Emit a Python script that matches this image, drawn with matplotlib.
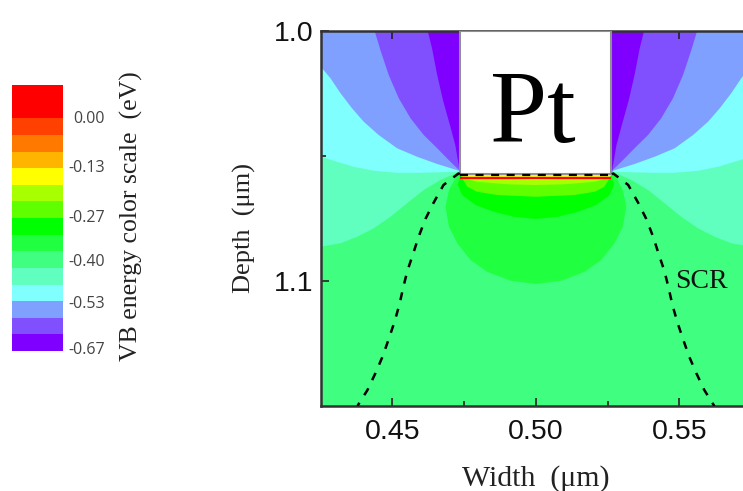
import matplotlib
matplotlib.use('Agg')
import matplotlib.pyplot as plt

# colour scale, bottom to top (top red block is twice as tall), with the labels next to it
scale_colors = ['#8000ff', '#8050ff', '#80a0ff', '#80ffff', '#60ffc0', '#40ff80', '#20ff40', '#00ff00',
                '#60ff00', '#a8ff00', '#ffff00', '#ffb400', '#ff7800', '#ff4000', '#ff0000']
scale_heights = [1, 1, 1, 1, 1, 1, 1, 1, 1, 1, 1, 1, 1, 1, 2]
scale_labels = ['-0.67', '-0.53', '-0.40', '-0.27', '-0.13', '0.00']
scale_label_pos = [0.2, 2.97, 5.48, 8.1, 11.1, 14.1]

# left half of the band edges (width um, depth um), mirrored around 0.50
pt_left = 0.4735
pt_right = 0.5262
pt_bottom = 1.0573
meet_d = 1.0565

edge_w1 = [0.4623, 0.4638, 0.4656, 0.4676, 0.4702, 0.4719, 0.4732, pt_left]
edge_d1 = [1.0, 1.0069, 1.0176, 1.0276, 1.0383, 1.0456, 1.0543, meet_d]
edge_w2 = [0.4438, 0.4458, 0.4487, 0.4522, 0.4563, 0.4609, 0.4656, 0.4696, 0.4732, pt_left]
edge_d2 = [1.0, 1.0076, 1.0176, 1.0269, 1.0349, 1.0416, 1.0469, 1.0516, 1.0556, meet_d]
edge_w3 = [0.4240, 0.4284, 0.4319, 0.4359, 0.4400, 0.4452, 0.4516, 0.4586, 0.4656, 0.4732, pt_left]
edge_d3 = [1.0129, 1.0189, 1.0249, 1.0309, 1.0363, 1.0416, 1.0469, 1.0503, 1.0532, 1.0559, meet_d]
edge_w4 = [0.4240, 0.4307, 0.4365, 0.4435, 0.4516, 0.4597, 0.4667, 0.4732, pt_left]
edge_d4 = [1.0499, 1.0523, 1.0543, 1.0559, 1.0567, 1.0567, 1.0565, 1.0563, meet_d]
edge_w5 = [0.4240, 0.4319, 0.4377, 0.4435, 0.4493, 0.4551, 0.4609, 0.4667, 0.4725, pt_left]
edge_d5 = [1.0865, 1.0849, 1.0823, 1.0789, 1.0743, 1.0689, 1.0636, 1.0596, 1.0567, meet_d]

# blobs under the contact, left half only
blob_w1 = [pt_left, 0.4726, 0.4697, 0.4685, 0.4697, 0.4726, 0.4772, 0.4830, 0.4912, 0.5]
blob_d1 = [pt_bottom, 1.0575, 1.0636, 1.0703, 1.0783, 1.0849, 1.0916, 1.0963, 1.0999, 1.1012]
blob_w2 = [pt_left, 0.4735, 0.4728, 0.4743, 0.4790, 0.4853, 0.4923, 0.5]
blob_d2 = [pt_bottom, 1.0583, 1.0616, 1.0656, 1.0696, 1.0723, 1.0743, 1.0752]
blob_w3 = [pt_left, 0.4761, 0.4795, 0.4865, 0.5]
blob_d3 = [pt_bottom, 1.0623, 1.0643, 1.0656, 1.0663]
blob_w4 = [pt_left, 0.4743, 0.4795, 0.4900, 0.5]
blob_d4 = [pt_bottom, 1.0585, 1.0603, 1.0613, 1.0616]
blob_w5 = [pt_left, 0.4743, 0.5]
blob_d5 = [pt_bottom, 1.0583, 1.0596]

# SCR dashed line, left half
scr_w = [0.4735, 0.4730, 0.4678, 0.4643, 0.4615, 0.4591, 0.4573, 0.4552, 0.4538, 0.4524, 0.4507, 0.4486,
         0.4465, 0.4441, 0.4413, 0.4378]
scr_d = [1.0573, 1.0570, 1.0616, 1.0688, 1.0752, 1.0824, 1.0888, 1.0960, 1.1024, 1.1096, 1.1164, 1.1236,
         1.1304, 1.1368, 1.1436, 1.1500]

plt.rcParams['font.family'] = ['Liberation Sans', 'DejaVu Sans']

fig = plt.figure(figsize=(7.43, 4.91), dpi=100)

# main panel
ax = fig.add_axes([321 / 743, 1 - 406 / 491, 422 / 743, 375 / 491])
ax.set_facecolor('#40ff80')


def band(w, d, color):
    # region between the edge curve and the top of the panel, both sides
    ax.fill(w + [pt_left, w[0]], d + [1.0, 1.0], color=color, lw=0)
    w2 = [1.0 - v for v in w]
    ax.fill(w2 + [1.0 - pt_left, w2[0]], d + [1.0, 1.0], color=color, lw=0)


def blob(w, d, color):
    # closed shape hanging below the contact
    ax.fill(w + [1.0 - v for v in w[::-1]], d + d[::-1], color=color, lw=0)


band(edge_w5, edge_d5, scale_colors[4])
band(edge_w4, edge_d4, scale_colors[3])
band(edge_w3, edge_d3, scale_colors[2])
band(edge_w2, edge_d2, scale_colors[1])
band(edge_w1, edge_d1, scale_colors[0])

blob(blob_w1, blob_d1, scale_colors[6])
blob(blob_w2, blob_d2, scale_colors[7])
blob(blob_w3, blob_d3, scale_colors[8])
blob(blob_w4, blob_d4, scale_colors[9])
blob(blob_w5, blob_d5, scale_colors[10])

# the Pt contact
ax.fill([pt_left, pt_right, pt_right, pt_left], [1.0, 1.0, pt_bottom, pt_bottom],
        facecolor='white', edgecolor='#909090', lw=1.5, zorder=3)
ax.plot([pt_left, pt_right], [pt_bottom + 0.0016, pt_bottom + 0.0016], color='#ff0000', lw=1.6, zorder=3,
        solid_capstyle='butt')
ax.text(0.499, 1.0445, 'Pt', family='Liberation Serif', fontsize=74, ha='center', va='baseline', zorder=4)

# SCR boundary
scr_dash = (3.2, 3.6)
ax.plot(scr_w, scr_d, color='black', lw=1.8, dashes=scr_dash, zorder=5)
ax.plot([1.0 - v for v in scr_w], scr_d, color='black', lw=1.8, dashes=scr_dash, zorder=5)
ax.plot([pt_left, pt_right], [pt_bottom + 0.0003, pt_bottom + 0.0003], color='black', lw=1.6,
        dashes=(3.6, 3.4), zorder=5)
ax.text(0.5485, 1.1, 'SCR', family='Liberation Serif', fontsize=20, color='#111111', ha='left', va='center', zorder=5)

ax.set_xlim(0.4251, 0.5722)
ax.set_ylim(1.15, 1.0)
ax.set_xticks([0.45, 0.50, 0.55])
ax.set_xticklabels(['0.45', '0.50', '0.55'])
ax.set_xticks([0.475, 0.525], minor=True)
ax.set_yticks([1.0, 1.1])
ax.set_yticklabels(['1.0', '1.1'])
ax.set_yticks([1.05], minor=True)
ax.tick_params(which='major', direction='in', length=6, width=1.2, top=True, labelsize=20.5,
               color='#222222', labelcolor='#111111')
ax.tick_params(axis='x', which='major', pad=9.5)
ax.tick_params(axis='y', which='major', pad=5.5)
ax.tick_params(which='minor', direction='in', length=3.5, width=1.2, top=True, color='#222222')
for name in ['top', 'bottom', 'left']:
    ax.spines[name].set_linewidth(1.8)
    ax.spines[name].set_color('#333333')
ax.spines['right'].set_visible(False)
ax.set_xlabel('Width  (\u03bcm)', family='Liberation Serif', fontsize=21.5, color='#222222', labelpad=14, x=0.509)
ax.set_ylabel('Depth  (\u03bcm)', family='Liberation Serif', fontsize=19, color='#222222', labelpad=13, y=0.475)

# colour scale panel
cax = fig.add_axes([12 / 743, 1 - 351 / 491, 51 / 743, 266 / 491])
bar_bottoms = [sum(scale_heights[:i]) for i in range(len(scale_heights))]
cax.bar([0] * len(scale_colors), scale_heights, bottom=bar_bottoms, width=1, color=scale_colors)
cax.set_xlim(-0.5, 0.5)
cax.set_ylim(0, sum(scale_heights))
cax.set_xticks([])
cax.yaxis.tick_right()
cax.set_yticks(scale_label_pos)
cax.set_yticklabels(scale_labels, family='Open Sans', fontsize=11.5, color='#444444', ha='right')
cax.tick_params(axis='y', length=0, pad=30)
for s in cax.spines.values():
    s.set_visible(False)
fig.text(131 / 743, 1 - 216 / 491, 'VB energy color scale  (eV)', family='Liberation Serif', fontsize=18.5,
         rotation=90, ha='center', va='center', color='#222222')

fig.savefig('out.png', dpi=100)
